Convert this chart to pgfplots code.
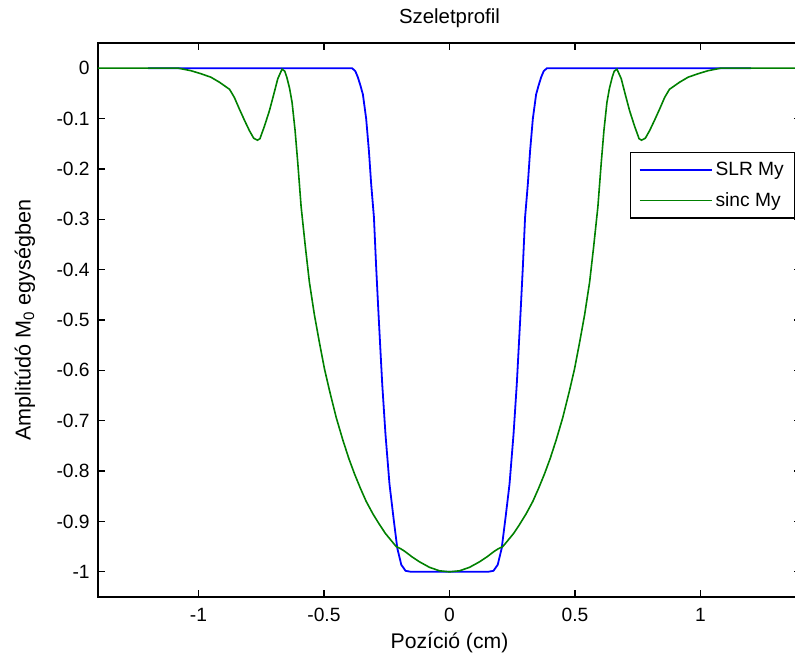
\documentclass[border=0pt]{standalone}
\usepackage{fontspec}
\setmainfont{Liberation Sans}
\usepackage{pgfplots}
\pgfplotsset{compat=1.18}
\definecolor{mblue}{rgb}{0,0,1}
\definecolor{mgreen}{rgb}{0,0.5,0}
\begin{document}
\begin{tikzpicture}
\begin{axis}[
  at={(0,0)}, anchor=south west,
  scale only axis, width=351.5pt, height=277pt,
  xmin=-1.4, xmax=1.4, ymin=-1.05, ymax=0.05,
  xtick={-1,-0.5,0,0.5,1},
  xticklabels={-1,-0.5,0,0.5,1},
  ytick={-1,-0.9,-0.8,-0.7,-0.6,-0.5,-0.4,-0.3,-0.2,-0.1,0},
  yticklabels={-1,-0.9,-0.8,-0.7,-0.6,-0.5,-0.4,-0.3,-0.2,-0.1,0},
  tick align=inside, major tick length=3.5pt,
  xtick pos=both, ytick pos=both,
  axis line style={line width=0.6pt, black},
  every tick/.style={line width=0.6pt, black},
  font=\fontsize{9.6}{11.5}\selectfont,
  xticklabel style={anchor=base, yshift=-12.3pt, inner sep=0pt},
  yticklabel style={anchor=east, xshift=-4pt, inner sep=0pt},
  title={Szeletprofil},
  title style={at={(0.5,1)}, anchor=base, yshift=3.5pt, inner sep=0pt, font=\fontsize{10.2}{12}\selectfont},
  xlabel={Pozíció (cm)},
  xlabel style={at={(0.5,0)}, anchor=base, yshift=-25.5pt, inner sep=0pt, font=\fontsize{10.6}{12}\selectfont},
  ylabel={Amplitúdó M\textsubscript{0} egységben},
  ylabel style={at={(-0.1038,0.5)}, anchor=center, inner sep=0pt, font=\fontsize{10.8}{12}\selectfont},
  legend style={at={(0.757,0.803)}, anchor=north west, draw=black, line width=0.6pt,
    inner xsep=4pt, inner ysep=3pt, row sep=4pt,
    nodes={inner sep=1.5pt}, font=\fontsize{9.6}{11.5}\selectfont},
  legend cell align=left,
  legend image code/.code={\draw[#1] (0pt,0pt) -- (36pt,0pt);},
]
\addplot[mblue, line width=0.9pt] coordinates {
(-1.2,0) (-0.388,0) (-0.375,-0.006) (-0.365,-0.018) (-0.355,-0.034) (-0.345,-0.052)
(-0.332,-0.10) (-0.321,-0.164) (-0.312,-0.230) (-0.301,-0.296) (-0.292,-0.396)
(-0.282,-0.495) (-0.268,-0.627) (-0.255,-0.727) (-0.239,-0.826) (-0.223,-0.893)
(-0.208,-0.953) (-0.192,-0.986) (-0.175,-0.998) (-0.153,-1.0)
(0.153,-1.0) (0.175,-0.998) (0.192,-0.986) (0.208,-0.953) (0.223,-0.893)
(0.239,-0.826) (0.255,-0.727) (0.268,-0.627) (0.282,-0.495) (0.292,-0.396)
(0.301,-0.296) (0.312,-0.230) (0.321,-0.164) (0.332,-0.10) (0.345,-0.052)
(0.355,-0.034) (0.365,-0.018) (0.375,-0.006) (0.388,0) (1.2,0)
};
\addlegendentry{SLR My}
\addplot[mgreen, line width=0.8pt] coordinates {
(-1.4,0) (-1.08,0) (-1.03,-0.005) (-0.99,-0.011) (-0.95,-0.018) (-0.916,-0.028)
(-0.876,-0.042) (-0.857,-0.058) (-0.837,-0.081) (-0.817,-0.103) (-0.797,-0.124)
(-0.78,-0.139) (-0.765,-0.143) (-0.755,-0.140) (-0.737,-0.115) (-0.717,-0.084)
(-0.70,-0.052) (-0.684,-0.021) (-0.667,-0.002) (-0.656,-0.006) (-0.648,-0.018)
(-0.637,-0.040) (-0.627,-0.068) (-0.615,-0.124) (-0.604,-0.19) (-0.591,-0.275)
(-0.574,-0.355) (-0.558,-0.425) (-0.538,-0.490) (-0.518,-0.545) (-0.498,-0.597)
(-0.478,-0.640) (-0.451,-0.694) (-0.425,-0.738) (-0.401,-0.775) (-0.378,-0.806)
(-0.355,-0.834) (-0.332,-0.860) (-0.305,-0.885) (-0.279,-0.906) (-0.255,-0.924)
(-0.232,-0.938) (-0.212,-0.950) (-0.195,-0.954) (-0.179,-0.959) (-0.15,-0.970)
(-0.12,-0.980) (-0.08,-0.991) (-0.04,-0.998) (0,-1.0)
(0.04,-0.998) (0.08,-0.991) (0.12,-0.980) (0.15,-0.970) (0.179,-0.959)
(0.195,-0.954) (0.212,-0.950) (0.232,-0.938) (0.255,-0.924) (0.279,-0.906)
(0.305,-0.885) (0.332,-0.860) (0.355,-0.834) (0.378,-0.806) (0.401,-0.775)
(0.425,-0.738) (0.451,-0.694) (0.478,-0.640) (0.498,-0.597) (0.518,-0.545)
(0.538,-0.490) (0.558,-0.425) (0.574,-0.355) (0.591,-0.275) (0.604,-0.19)
(0.615,-0.124) (0.627,-0.068) (0.637,-0.040) (0.648,-0.018) (0.656,-0.006)
(0.667,-0.002) (0.684,-0.021) (0.70,-0.052) (0.717,-0.084) (0.737,-0.115)
(0.755,-0.140) (0.765,-0.143) (0.78,-0.139) (0.797,-0.124) (0.817,-0.103)
(0.837,-0.081) (0.857,-0.058) (0.876,-0.042) (0.916,-0.028) (0.95,-0.018)
(0.99,-0.011) (1.03,-0.005) (1.08,0) (1.4,0)
};
\addlegendentry{sinc My}
\end{axis}
\pgfresetboundingbox
\path[use as bounding box] (-49pt,-30.5pt) rectangle (348.5pt,298.5pt);
\end{tikzpicture}
\end{document}
